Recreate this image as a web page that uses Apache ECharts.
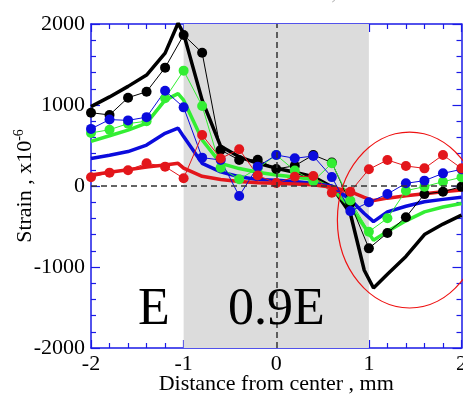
<!DOCTYPE html>
<html>
<head>
<meta charset="utf-8">
<script src="https://cdn.jsdelivr.net/npm/echarts@6/dist/echarts.min.js"></script>
<style>
  html, body { margin: 0; padding: 0; background: #fff; }
  #chart { width: 463px; height: 396px; }
</style>
</head>
<body>
<div id="chart"></div>
<script>
// measured points, every 0.2 mm
var xPoints = [-2, -1.8, -1.6, -1.4, -1.2, -1, -0.8, -0.6, -0.4, -0.2, 0, 0.2, 0.4, 0.6, 0.8, 1, 1.2, 1.4, 1.6, 1.8, 2];
var blackDots = [905, 877, 1090, 1164, 1461, 1864, 1645, 444, 321, 325, 210, 250, 383, 290, -214, -770, -580, -385, -100, -70, -8];
var greenDots = [655, 695, 770, 800, 1083, 1424, 988, 226, 83, 218, 383, 190, 60, 280, -180, -564, -399, -58, -8, 53, 107];
var blueDots = [705, 820, 810, 850, 1175, 971, 350, 321, -123, 239, 383, 342, 370, 110, -310, -201, -99, 33, 66, 156, 206];
var redDots = [107, 165, 195, 280, 239, 95, 630, 340, 453, 130, 37, 115, 123, -83, -70, 206, 321, 247, 218, 383, 218];

// calculated curves (thick lines)
var xModel = [-2, -1.8, -1.6, -1.4, -1.2, -1.06, -1, -0.8, -0.6, -0.4, -0.2, 0, 0.2, 0.4, 0.6, 0.8, 0.95, 1.05, 1.2, 1.4, 1.6, 1.8, 2];
var blackModel = [980, 1100, 1230, 1370, 1640, 2010, 1880, 1060, 490, 360, 280, 220, 170, 115, -10, -340, -1040, -1260, -1090, -870, -600, -470, -360];
var greenModel = [550, 620, 690, 775, 1060, 1140, 1060, 570, 280, 215, 170, 135, 110, 80, -30, -255, -500, -670, -560, -430, -320, -260, -215];
var blueModel = [340, 380, 425, 505, 650, 715, 610, 280, 175, 115, 80, 70, 55, 30, 0, -170, -340, -440, -320, -250, -195, -165, -140];
var redModel = [135, 170, 200, 235, 260, 280, 220, 120, 80, 55, 40, 33, 25, 15, -15, -70, -140, -180, -150, -120, -95, -70, -50];

var serif = "'Liberation Serif', 'Times New Roman', serif";
var axisBlue = '#1a1ae6';
var colors = { black: '#000000', green: '#33ee33', blue: '#0b0bdd', red: '#e3161b' };

function pairs(xs, ys) {
  return xs.map(function (x, i) { return [x, ys[i]]; });
}

function modelSeries(name, ys, color) {
  return {
    name: name, type: 'line', z: 3,
    data: pairs(xModel, ys),
    symbol: 'none', smooth: false,
    lineStyle: { color: color, width: 3.5 }
  };
}

function dotSeries(name, ys, color) {
  return {
    name: name, type: 'line', z: 4,
    data: pairs(xPoints, ys),
    symbol: 'circle', symbolSize: 10,
    itemStyle: { color: color },
    lineStyle: { color: color, width: 1 }
  };
}

function plain(v) { return String(v); }

function xAxisCfg(pos, showLabel) {
  return {
    type: 'value', position: pos, min: -2, max: 2, interval: 1,
    axisLine: { onZero: false, lineStyle: { color: axisBlue, width: 1.5 } },
    axisTick: { inside: true, length: 8, lineStyle: { color: axisBlue, width: 1.2 } },
    minorTick: { show: true, splitNumber: 5, length: 5, lineStyle: { color: axisBlue, width: 1.2 } },
    splitLine: { show: false },
    axisLabel: { show: showLabel, color: '#000', fontFamily: serif, fontSize: 22, margin: 5, formatter: plain }
  };
}

function yAxisCfg(pos, showLabel) {
  return {
    type: 'value', position: pos, min: -2000, max: 2000, interval: 1000,
    axisLine: { onZero: false, lineStyle: { color: axisBlue, width: 1.5 } },
    axisTick: { inside: true, length: 9, lineStyle: { color: axisBlue, width: 1.2 } },
    minorTick: { show: true, splitNumber: 5, length: 5, lineStyle: { color: axisBlue, width: 1.2 } },
    splitLine: { show: false },
    axisLabel: { show: showLabel, color: '#000', fontFamily: serif, fontSize: 22, margin: 6, formatter: plain }
  };
}

var chart = echarts.init(document.getElementById('chart'));

var xBottom = xAxisCfg('bottom', true);
xBottom.name = 'Distance from center , mm';
xBottom.nameLocation = 'middle';
xBottom.nameGap = 25;
xBottom.nameMoveOverlap = false;
xBottom.nameTextStyle = { color: '#000', fontFamily: serif, fontSize: 22 };

var yLeft = yAxisCfg('left', true);
yLeft.name = '{m|Strain , x10}{s|-6}';
yLeft.nameLocation = 'middle';
yLeft.nameGap = 53;
yLeft.nameMoveOverlap = false;
yLeft.nameTextStyle = {
  rich: {
    m: { color: '#000', fontFamily: serif, fontSize: 22, lineHeight: 26 },
    s: { color: '#000', fontFamily: serif, fontSize: 14, lineHeight: 26, padding: [0, 0, 12, 0] }
  }
};

var texts = [
  { type: 'text', left: 150, top: -17, style: { text: 'Distance from center ,', font: '21px ' + serif, fill: '#aaa' } },
  { type: 'text', left: 138, top: 284, z: 10, style: { text: 'E', font: '52px ' + serif, fill: '#000' } },
  { type: 'text', left: 228, top: 284, z: 10, style: { text: '0.9E', font: '52px ' + serif, fill: '#000' } }
];

var option = {
  animation: false,
  grid: { left: 91, right: 1.5, top: 24, bottom: 48, containLabel: false, outerBoundsMode: 'none' },
  xAxis: [xBottom, xAxisCfg('top', false)],
  yAxis: [yLeft, yAxisCfg('right', false)],
  graphic: texts,
  series: [
    {
      type: 'line', data: [], z: 1,
      markArea: {
        silent: true,
        itemStyle: { color: '#dcdcdc' },
        data: [[{ xAxis: -1 }, { xAxis: 1 }]]
      },
      markLine: {
        silent: true, symbol: 'none', label: { show: false },
        lineStyle: { color: '#333', type: [6, 4], width: 1.5 },
        data: [{ yAxis: 0 }, { xAxis: 0 }]
      }
    },
    modelSeries('Black calc', blackModel, colors.black),
    modelSeries('Green calc', greenModel, colors.green),
    modelSeries('Blue calc', blueModel, colors.blue),
    modelSeries('Red calc', redModel, colors.red),
    dotSeries('Black', blackDots, colors.black),
    dotSeries('Green', greenDots, colors.green),
    dotSeries('Blue', blueDots, colors.blue),
    dotSeries('Red', redDots, colors.red)
  ]
};

chart.setOption(option);

// red ellipse around the right-hand region, placed in data units
var c = chart.convertToPixel({ xAxisIndex: 0, yAxisIndex: 0 }, [1.44, -420]);
var e = chart.convertToPixel({ xAxisIndex: 0, yAxisIndex: 0 }, [1.44 + 0.78, -420 + 1086]);
chart.setOption({
  graphic: texts.concat([{
    type: 'ellipse', z: 20, silent: true,
    shape: { cx: c[0], cy: c[1], rx: e[0] - c[0], ry: c[1] - e[1] },
    style: { fill: 'none', stroke: '#ee1111', lineWidth: 1.2 }
  }])
});
</script>
</body>
</html>
